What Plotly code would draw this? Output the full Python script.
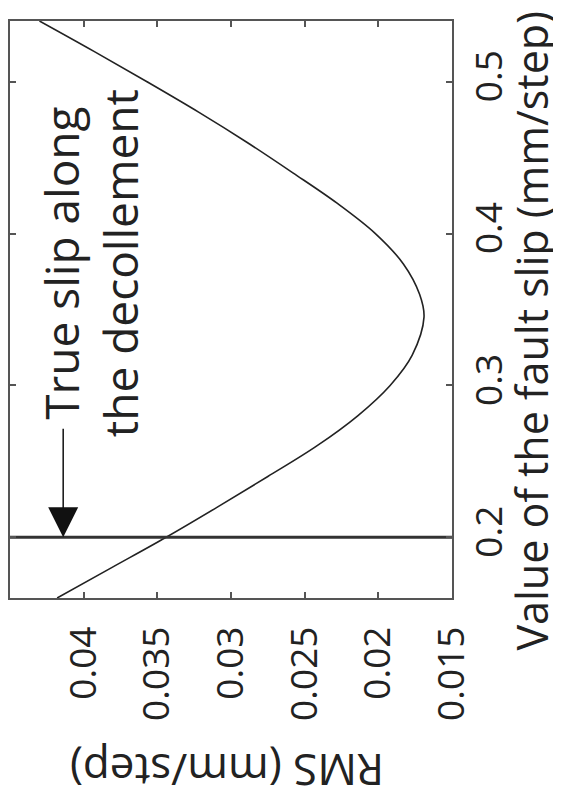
import plotly.graph_objects as go

# Data read from the (rotated) reference chart
fault_slip = [0.16, 0.18, 0.20, 0.22, 0.24, 0.26, 0.28, 0.30, 0.32, 0.345,
              0.36, 0.38, 0.40, 0.42, 0.44, 0.46, 0.48, 0.50, 0.52, 0.54]
rms = [0.0418, 0.0381, 0.0344, 0.0309, 0.0275, 0.0242, 0.0214, 0.0192, 0.0177, 0.0169,
       0.0172, 0.0183, 0.0202, 0.0228, 0.0258, 0.0289, 0.0322, 0.0357, 0.0393, 0.0430]
true_slip = 0.2

rms_ticks = [0.04, 0.035, 0.03, 0.025, 0.02, 0.015]
rms_ticktext = ["0.04", "0.035", "0.03", "0.025", "0.02", "0.015"]
slip_ticks = [0.2, 0.3, 0.4, 0.5]
slip_ticktext = ["0.2", "0.3", "0.4", "0.5"]

FONT = "Open Sans"
TXT = "#222222"
FRAME = "#555555"

fig = go.Figure()
fig.add_trace(go.Scatter(x=rms, y=fault_slip, mode="lines",
                         line=dict(color="#222222", width=1.6, shape="spline", smoothing=1.0),
                         hoverinfo="skip", showlegend=False))
fig.add_trace(go.Scatter(x=[0.045, 0.015], y=[true_slip, true_slip], mode="lines",
                         line=dict(color="#333333", width=3), hoverinfo="skip", showlegend=False))

# page body has an 8px default margin, so the figure is 8px smaller and shifted
fig.update_layout(
    width=553, height=793,
    margin=dict(l=2, r=109, t=13, b=203, autoexpand=False),
    paper_bgcolor="white", plot_bgcolor="white",
    font=dict(family=FONT, color=TXT, size=37),
    xaxis=dict(range=[0.045, 0.015], tickvals=rms_ticks, ticktext=rms_ticktext,
               tickangle=-90, ticks="inside", ticklen=6, tickcolor=FRAME, tickwidth=1.5,
               showline=True, mirror="ticks", linecolor=FRAME, linewidth=1.5,
               showgrid=False, zeroline=False, tickfont=dict(size=37, family=FONT, color=TXT),
               ticklabelstandoff=12),
    yaxis=dict(range=[0.16, 0.54], tickvals=slip_ticks, ticktext=slip_ticktext, side="right",
               tickangle=-90, ticks="inside", ticklen=6, tickcolor=FRAME, tickwidth=1.5,
               showline=True, mirror="ticks", linecolor=FRAME, linewidth=1.5,
               showgrid=False, zeroline=False, tickfont=dict(size=37, family=FONT, color=TXT),
               ticklabelstandoff=4),
)

annotations = [
    dict(text="Value of the fault slip (mm/step)", xref="paper", yref="paper",
         x=1.179, y=0.462, showarrow=False, textangle=-90, xanchor="center", yanchor="middle",
         font=dict(size=43, family=FONT, color=TXT)),
    dict(text="RMS (mm/step)", xref="paper", yref="paper",
         x=0.491, y=-0.300, showarrow=False, textangle=180, xanchor="center", yanchor="middle",
         font=dict(size=44, family=FONT, color=TXT)),
    dict(text="True slip along<br>the decollement", xref="paper", yref="paper",
         x=0.183, y=0.580, showarrow=False, textangle=-90, xanchor="center", yanchor="middle",
         align="center", font=dict(size=46, family=FONT, color=TXT)),
    dict(text="", x=0.04139, y=true_slip, xref="x", yref="y", showarrow=True,
         ax=0, ay=-110, axref="pixel", ayref="pixel", arrowhead=2, arrowsize=4,
         arrowwidth=1.5, arrowcolor="#111111", standoff=0),
]
fig.update_layout(annotations=annotations)

fig.write_html("out.html")
